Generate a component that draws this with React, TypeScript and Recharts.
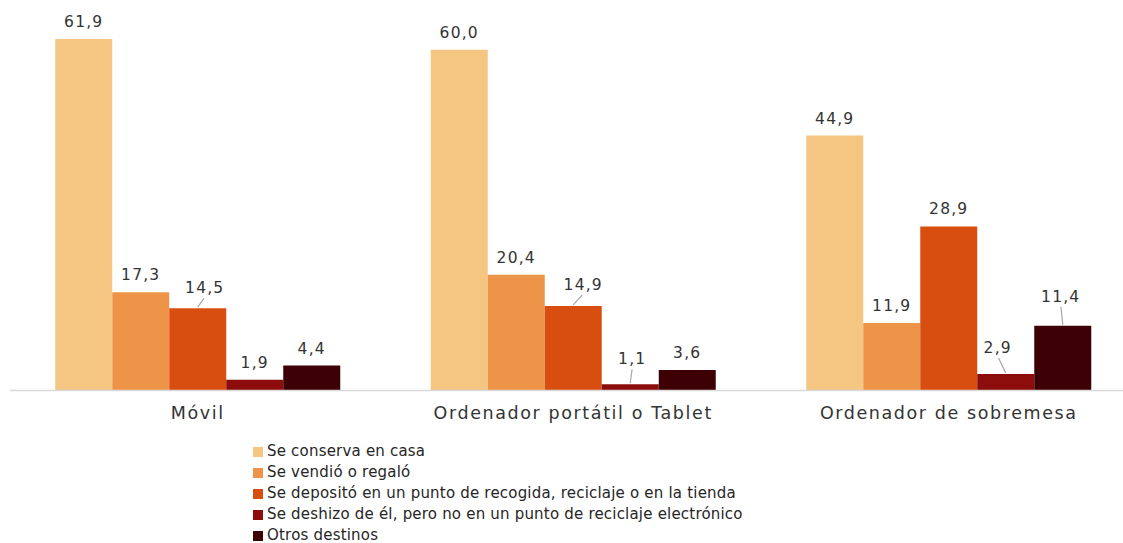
import React from 'react';
import { BarChart, Bar, XAxis, YAxis, LabelList } from 'recharts';

const categories = ['Móvil', 'Ordenador portátil o Tablet', 'Ordenador de sobremesa'];
const seriesNames = [
  'Se conserva en casa',
  'Se vendió o regaló',
  'Se depositó en un punto de recogida, reciclaje o en la tienda',
  'Se deshizo de él, pero no en un punto de reciclaje electrónico',
  'Otros destinos',
];
const conservaEnCasa = [61.9, 60.0, 44.9];
const vendioRegalo = [17.3, 20.4, 11.9];
const depositoPunto = [14.5, 14.9, 28.9];
const deshizo = [1.9, 1.1, 2.9];
const otrosDestinos = [4.4, 3.6, 11.4];

const seriesKeys = ['s0', 's1', 's2', 's3', 's4'];
const seriesValues = [conservaEnCasa, vendioRegalo, depositoPunto, deshizo, otrosDestinos];
const colors = ['#F5C582', '#EE9449', '#D74E10', '#8C0D0B', '#3D0005'];

const data = categories.map((c, i) => {
  const row: Record<string, any> = { category: c };
  seriesKeys.forEach((k, j) => {
    row[k] = seriesValues[j][i];
  });
  return row;
});

// label placement tweaks (layout only): [seriesIndex-categoryIndex] -> [dx, dy] of label centre relative to bar top centre
const labelShift: Record<string, [number, number]> = {
  '2-0': [7, -20],
  '2-1': [10, -21],
  '3-1': [2, -25],
  '3-2': [-8, -26],
  '4-2': [-2, -29],
};

const FONT = '"DejaVu Sans", Verdana, sans-serif';

const makeLabel = (si: number) => (props: any) => {
  const vb = props.viewBox || props;
  const x = vb.x ?? props.x;
  const y = vb.y ?? props.y;
  const w = vb.width ?? props.width;
  const idx = props.index;
  const v = Number(props.value);
  const cx = x + w / 2;
  const shift = labelShift[`${si}-${idx}`];
  const txt = v.toFixed(1).replace('.', ',');
  const textProps = {
    textAnchor: 'middle' as const,
    dominantBaseline: 'central' as const,
    fontFamily: FONT,
    fontSize: 15.5,
    letterSpacing: 1.2,
    fill: '#333333',
  };
  if (shift) {
    const [dx, dy] = shift;
    const lx = cx + dx;
    const ly = y + dy;
    return (
      <g>
        <line x1={cx} y1={y - 1} x2={cx + dx * 0.9} y2={ly + 10} stroke="#A6A6A6" strokeWidth={1.2} />
        <text x={lx} y={ly} {...textProps}>
          {txt}
        </text>
      </g>
    );
  }
  return (
    <text x={cx} y={y - 17} {...textProps}>
      {txt}
    </text>
  );
};

const CatTick = (props: any) => {
  const { x, payload } = props;
  return (
    <text x={x} y={413} textAnchor="middle" dominantBaseline="central" fontFamily={FONT} fontSize={17.5} letterSpacing={1.6} fill="#333333">
      {payload.value}
    </text>
  );
};

export default function App() {
  return (
    <div style={{ position: 'absolute', left: 0, top: 0, width: 1123, height: 543, overflow: 'hidden', background: '#fff' }}>
      <BarChart
        width={1140}
        height={543}
        data={data}
        margin={{ top: 21.4, right: 3.5, left: 10, bottom: 122.5 }}
        barCategoryGap={45.25}
        barGap={0}
      >
        <XAxis dataKey="category" height={30} tickLine={false} axisLine={{ stroke: '#D9D9D9', strokeWidth: 1.5 }} tick={<CatTick />} interval={0} />
        <YAxis hide domain={[0, 65]} />
        {seriesKeys.map((k, si) => (
          <Bar key={k} dataKey={k} name={seriesNames[si]} fill={colors[si]} isAnimationActive={false}>
            <LabelList dataKey={k} content={makeLabel(si)} />
          </Bar>
        ))}
      </BarChart>
      <div style={{ position: 'absolute', left: 253, top: 444, fontFamily: FONT, fontSize: 15, lineHeight: 1, letterSpacing: 0.2, color: '#262626' }}>
        {seriesNames.map((n, i) => (
          <div key={n} style={{ height: 15, marginBottom: i < seriesNames.length - 1 ? 6 : 0, display: 'flex', alignItems: 'center', whiteSpace: 'nowrap' }}>
            <span style={{ display: 'inline-block', width: 10, height: 10, background: colors[i], marginRight: 4 }} />
            <span style={{ lineHeight: 1 }}>{n}</span>
          </div>
        ))}
      </div>
    </div>
  );
}
